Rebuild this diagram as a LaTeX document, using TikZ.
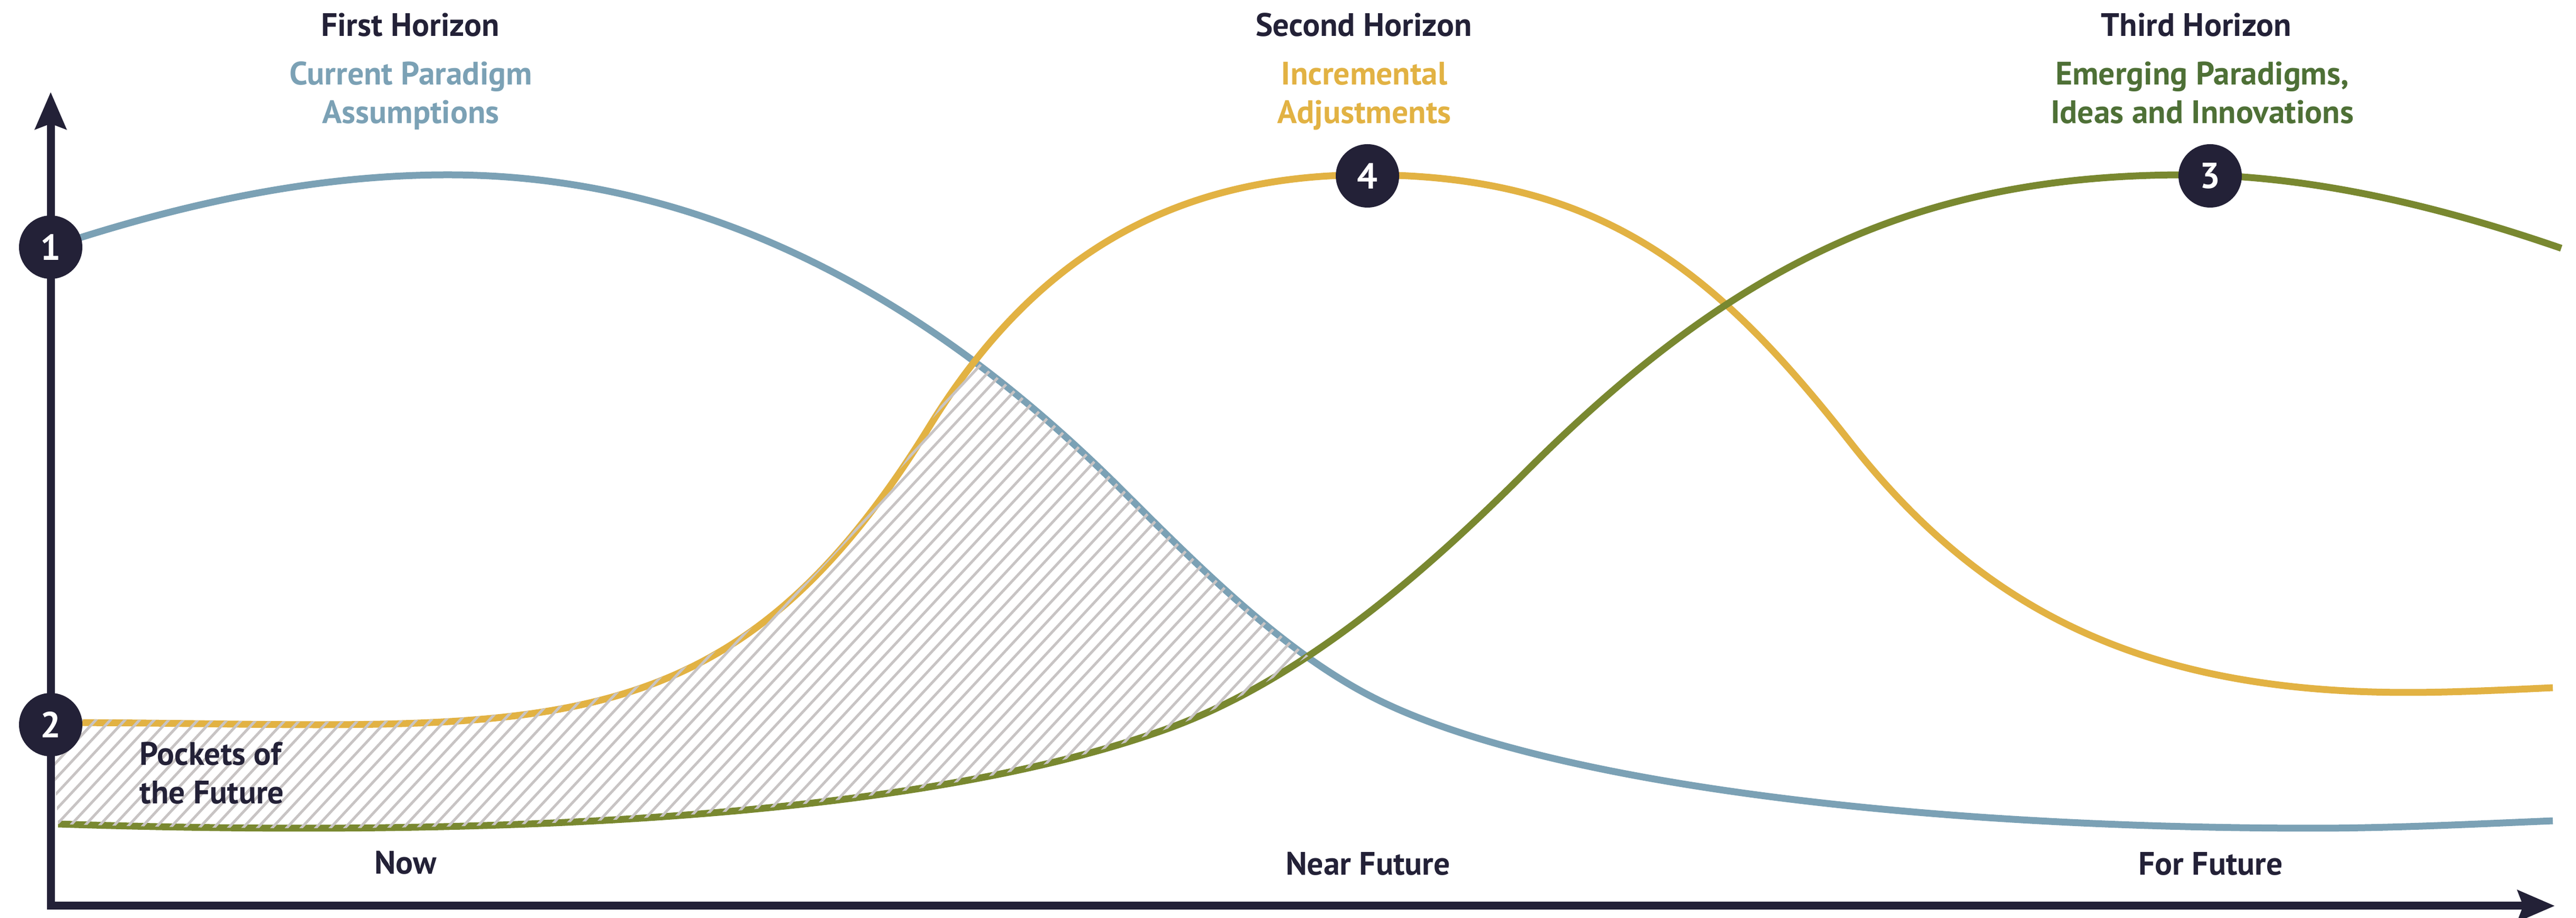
\documentclass[tikz,border=0pt]{standalone}
\usepackage{fontspec}
\setmainfont{PT Sans}
\usetikzlibrary{arrows.meta,positioning}

\definecolor{navy}{RGB}{35,33,55}
\definecolor{horizonblue}{RGB}{123,161,181}
\definecolor{horizonyellow}{RGB}{226,178,67}
\definecolor{horizonolive}{RGB}{121,136,48}
\definecolor{labelgreen}{RGB}{78,112,54}
\definecolor{hatchgrey}{RGB}{200,196,196}

% the three horizon curves
\newcommand{\firstcurve}{(0.96,12.70) .. controls (3.46,13.53) and (5.98,14.07) .. (8.48,14.07)
  .. controls (14.48,14.07) and (18.8,10.55) .. (21.3,8.05)
  .. controls (22.9,6.45) and (24.36,5.03) .. (25.96,4.20)
  .. controls (28.96,2.64) and (35.84,1.70) .. (43.84,1.70)
  .. controls (45.3,1.70) and (46.9,1.78) .. (48.35,1.84)}
\newcommand{\secondcurve}{(0.96,3.70) .. controls (9.96,3.70) and (13.6,2.82) .. (17.6,9.3)
  .. controls (19.4,12.22) and (21.89,14.07) .. (25.89,14.07)
  .. controls (30.39,14.07) and (32.55,12.175) .. (35.05,9.0)
  .. controls (37.55,5.825) and (40.6,4.27) .. (45.6,4.27)
  .. controls (46.5,4.27) and (47.5,4.32) .. (48.35,4.36)}
\newcommand{\thirdcurve}{(1.10,1.78) .. controls (2.6,1.73) and (4.2,1.70) .. (5.76,1.70)
  .. controls (11.76,1.70) and (18.10,2.14) .. (22.10,3.58)
  .. controls (24.6,4.48) and (26.9,6.45) .. (28.9,8.45)
  .. controls (32.9,12.45) and (36.4,14.07) .. (41.4,14.07)
  .. controls (43.8,14.07) and (46.31,13.44) .. (48.51,12.68)}

\tikzset{
  curve/.style={line width=0.13cm},
  hatch/.style={hatchgrey, line width=0.05cm},
  axis/.style={navy, line width=0.15cm, line join=miter,
    {Stealth[length=0.7cm,width=0.58cm,inset=0.1cm]}-{Stealth[length=0.7cm,width=0.58cm,inset=0.1cm]}},
  badge/.style={circle, fill=navy, minimum size=1.2cm, inner sep=0pt, text=white,
    font=\bfseries\fontsize{19.5}{20}\selectfont},
  heading/.style={font=\bfseries\fontsize{17.5}{20.8}\selectfont, text=navy, anchor=base, inner sep=0pt},
  theme/.style={heading, align=center}
}

\begin{document}
\begin{tikzpicture}
  \useasboundingbox (0,0) rectangle (48.79,17.38);

  % curves
  \draw[curve, horizonblue] \firstcurve;
  \draw[curve, horizonyellow] \secondcurve;
  \draw[curve, horizonolive] \thirdcurve;

  % pockets of the future
  \begin{scope}
    \clip (0.96,0) rectangle (30,17.38);
    \clip[yshift=0.6mm] \secondcurve -- (48.79,-1) -- (0,-1) -- cycle;
    \clip[yshift=0.3mm] \firstcurve -- (48.79,-1) -- (0,-1) -- cycle;
    \clip \thirdcurve -- (48.79,18) -- (0,18) -- cycle;
    \foreach \i in {0,...,118}
      \draw[hatch] ({-8.2+0.276*\i},1) -- ++(47:14);
  \end{scope}

  % axes
  \coordinate (ytip) at (0.96,15.64);
  \coordinate (origin) at (0.96,0.23);
  \coordinate (xtip) at (48.39,0.23);
  \draw[axis] (ytip) -- (origin) -- (xtip);

  % markers
  \node[badge] (b1) at (0.96,12.70) {1};
  \node[badge] (b2) at (0.96,3.66) {2};
  \node[badge] (b4) at (25.90,14.05) {4};
  \node[badge] (b3) at (41.86,14.05) {3};

  % horizons
  \node[heading] (h1) at (7.77,16.69) {First Horizon};
  \node[heading] (h2) at (25.83,16.69) {Second Horizon};
  \node[heading] (h3) at (41.60,16.69) {Third Horizon};
  \node[theme, text=horizonblue] (t1) at (7.78,15.04) {Current Paradigm\\Assumptions};
  \node[theme, text=horizonyellow] (t2) at (25.84,15.04) {Incremental\\Adjustments};
  \node[theme, text=labelgreen] (t3) at (41.71,15.04) {Emerging Paradigms,\\Ideas and Innovations};

  \node[heading, align=left, anchor=base west] (pocket) at (2.64,2.16) {Pockets of\\the Future};

  % time labels
  \node[heading] (now) at (7.68,0.83) {Now};
  \node[heading] (near) at (25.91,0.81) {Near Future};
  \node[heading] (far) at (41.87,0.81) {For Future};
\end{tikzpicture}
\end{document}
